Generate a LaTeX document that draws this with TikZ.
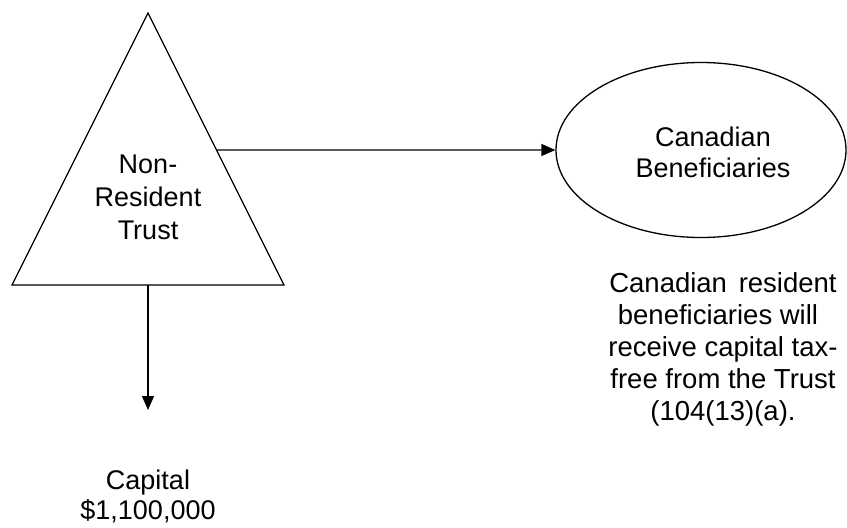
\documentclass[tikz,border=0pt]{standalone}
\usepackage{fontspec}
\setmainfont{Liberation Sans}
\usetikzlibrary{shapes.geometric,arrows.meta,calc}
\begin{document}
\begin{tikzpicture}[x=1pt,y=-1pt,
  shapeline/.style={draw=black,line width=1.3pt},
  conn/.style={draw=black,line width=1.3pt,-{Triangle[length=14pt,width=12pt]}},
  lbl/.style={font=\fontsize{27}{32}\selectfont,align=center,inner sep=0pt,text=black}]
\useasboundingbox[fill=white] (0,0) rectangle (847,528);
% triangle
\coordinate (apex) at (148,13);
\coordinate (bl) at (12,285);
\coordinate (br) at (284,285);
\draw[shapeline,line join=miter] (apex) -- (bl) -- (br) -- cycle;
\node[lbl,font=\fontsize{27}{33}\selectfont] (trust) at (148,197) {Non-\\Resident\\Trust};
\coordinate (tout) at ($(apex)!0.5037!(br)$);
\coordinate (tbase) at (148,285);
% ellipse
\node[ellipse,shapeline,minimum width=290,minimum height=175,inner sep=0pt] (ben) at (701,150) {};
\node[lbl,font=\fontsize{27}{31}\selectfont] (bentext) at (713,152) {Canadian\\Beneficiaries};
\node[lbl,font=\fontsize{27.5}{32}\selectfont] (note) at (723,349) {Canadian\hspace{0.15em} resident\\\hspace*{-10pt}beneficiaries will\\receive capital tax-\\free from the Trust\\(104(13)(a).};
\coordinate (captop) at (148,410);
\node[lbl,font=\fontsize{27}{30}\selectfont] (cap) at (148,496) {Capital\\\$1,100,000};
\draw[conn] (tout) -- (ben.west);
\draw[conn] (tbase) -- (captop);
\end{tikzpicture}
\end{document}
